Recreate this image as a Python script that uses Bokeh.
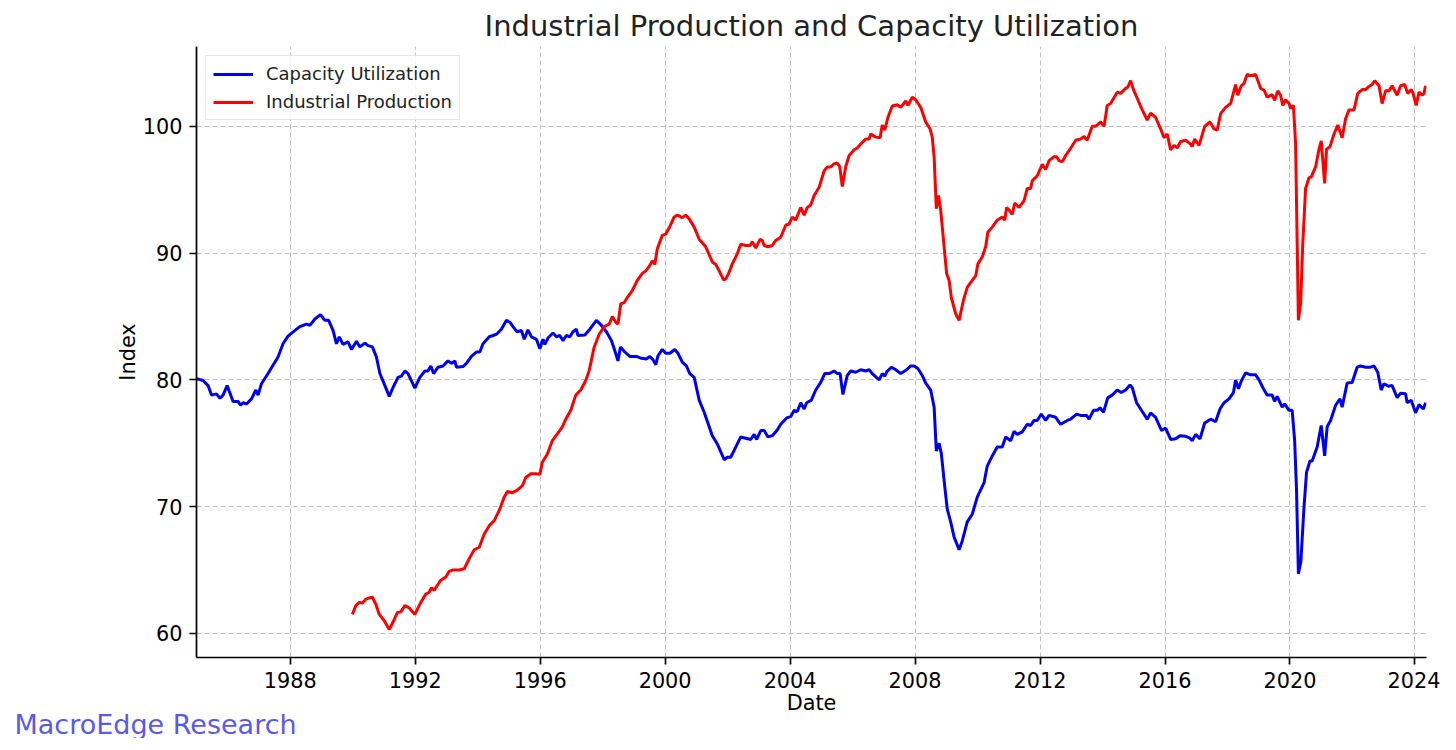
from bokeh.plotting import figure
from bokeh.models import Range1d, FixedTicker, Title
from bokeh.embed import file_html
from bokeh.resources import INLINE

# ---- data (decimal year, value) ----
cu_year = [1985.00, 1985.21, 1985.37, 1985.48, 1985.64, 1985.75, 1985.85, 1985.98, 1986.17, 1986.33,
           1986.41, 1986.49, 1986.60, 1986.76, 1986.90, 1986.97, 1987.08, 1987.29, 1987.61, 1987.77,
           1987.93, 1988.20, 1988.31, 1988.52, 1988.63, 1988.79, 1988.97, 1989.11, 1989.23, 1989.37,
           1989.48, 1989.57, 1989.69, 1989.85, 1989.96, 1990.12, 1990.23, 1990.39, 1990.49, 1990.63,
           1990.76, 1990.87, 1991.03, 1991.17, 1991.29, 1991.45, 1991.56, 1991.67, 1991.77, 1991.99,
           1992.15, 1992.31, 1992.41, 1992.50, 1992.59, 1992.73, 1992.89, 1993.05, 1993.16, 1993.27,
           1993.32, 1993.53, 1993.64, 1993.80, 1993.96, 1994.07, 1994.17, 1994.37, 1994.49, 1994.60,
           1994.76, 1994.92, 1995.03, 1995.13, 1995.26, 1995.40, 1995.49, 1995.61, 1995.72, 1995.88,
           1995.99, 1996.09, 1996.15, 1996.25, 1996.41, 1996.52, 1996.63, 1996.73, 1996.84, 1996.95,
           1997.05, 1997.16, 1997.21, 1997.43, 1997.59, 1997.80, 1997.96, 1998.12, 1998.28, 1998.39,
           1998.49, 1998.57, 1998.71, 1998.87, 1999.08, 1999.24, 1999.40, 1999.51, 1999.61, 1999.70,
           1999.77, 1999.91, 2000.02, 2000.15, 2000.31, 2000.41, 2000.55, 2000.68, 2000.79,
           2000.93, 2001.09, 2001.25, 2001.51, 2001.67, 2001.89, 2001.99, 2002.10, 2002.26, 2002.42,
           2002.58, 2002.74, 2002.85, 2002.93, 2003.06, 2003.17, 2003.29, 2003.43, 2003.59, 2003.70,
           2003.89, 2004.02, 2004.13, 2004.23, 2004.34, 2004.45, 2004.53, 2004.68, 2004.82, 2004.98,
           2005.11, 2005.25, 2005.41, 2005.51, 2005.60, 2005.69, 2005.83, 2005.94, 2006.10, 2006.26,
           2006.42, 2006.53, 2006.63, 2006.85, 2006.95, 2007.03, 2007.11, 2007.25, 2007.38, 2007.54,
           2007.73, 2007.86, 2007.97, 2008.09, 2008.23, 2008.34, 2008.50, 2008.61, 2008.68, 2008.77,
           2008.84, 2008.93, 2009.03, 2009.14, 2009.25, 2009.41, 2009.51, 2009.67, 2009.83, 2009.99,
           2010.21, 2010.31, 2010.47, 2010.63, 2010.79, 2010.90, 2011.06, 2011.17, 2011.27, 2011.43,
           2011.59, 2011.70, 2011.81, 2011.91, 2012.04, 2012.18, 2012.29, 2012.50, 2012.66, 2012.87,
           2012.98, 2013.17, 2013.30, 2013.49, 2013.57, 2013.71, 2013.83, 2013.92,
           2014.03, 2014.17, 2014.31, 2014.47, 2014.60, 2014.74, 2014.88, 2014.95, 2015.09, 2015.22,
           2015.43, 2015.54, 2015.70, 2015.89, 2016.02, 2016.18, 2016.34, 2016.48, 2016.66, 2016.80,
           2016.87, 2016.98, 2017.12, 2017.27, 2017.46, 2017.62, 2017.76, 2017.89, 2018.05, 2018.19,
           2018.26, 2018.35, 2018.44, 2018.58, 2018.74, 2018.90, 2019.01, 2019.15, 2019.27, 2019.43,
           2019.51, 2019.59, 2019.75, 2019.83, 2019.97, 2020.07, 2020.15, 2020.21, 2020.27, 2020.35,
           2020.45, 2020.53, 2020.64, 2020.71, 2020.87, 2021.00, 2021.11, 2021.19, 2021.30, 2021.46,
           2021.60, 2021.67, 2021.83, 2021.99, 2022.15, 2022.26, 2022.42, 2022.58, 2022.69, 2022.81,
           2022.92, 2023.01, 2023.15, 2023.27, 2023.43, 2023.54, 2023.70, 2023.75, 2023.88, 2024.02,
           2024.13, 2024.27, 2024.34]
cu_value = [80.1, 79.95, 79.55, 78.8, 78.9, 78.55, 78.8, 79.55, 78.3, 78.3,
            78.0, 78.2, 78.1, 78.5, 79.2, 78.8, 79.7, 80.5, 81.8, 82.85,
            83.45, 84.0, 84.2, 84.4, 84.3, 84.8, 85.15, 84.7, 84.7, 83.9,
            82.85, 83.4, 82.8, 83.0, 82.4, 83.05, 82.6, 82.9, 82.7, 82.6,
            81.8, 80.5, 79.55, 78.7, 79.4, 80.2, 80.3, 80.7, 80.5, 79.35,
            80.2, 80.7, 80.7, 81.1, 80.5, 81.0, 81.1, 81.5, 81.3, 81.5,
            81.0, 81.05, 81.3, 81.85, 82.2, 82.2, 82.85, 83.4, 83.5, 83.6,
            84.0, 84.7, 84.55, 84.2, 83.8, 83.9, 83.2, 83.95, 83.4, 83.2,
            82.45, 83.2, 82.8, 83.3, 83.7, 83.4, 83.5, 83.1, 83.5, 83.4,
            83.8, 84.0, 83.5, 83.55, 84.0, 84.7, 84.3, 83.8, 83.1, 82.3,
            81.5, 82.6, 82.2, 81.85, 81.85, 81.7, 81.65, 81.85, 81.6, 81.2,
            81.9, 82.4, 82.1, 82.1, 82.4, 82.1, 81.4, 81.1, 80.5,
            80.2, 78.4, 77.45, 75.6, 74.95, 73.7, 73.9, 73.9, 74.7, 75.5,
            75.4, 75.3, 75.7, 75.3, 76.0, 76.0, 75.5, 75.6, 76.05, 76.5,
            77.0, 77.1, 77.6, 77.5, 78.2, 77.7, 78.2, 78.4, 79.2, 79.8,
            80.5, 80.5, 80.7, 80.5, 80.5, 78.85, 80.35, 80.7, 80.6, 80.8,
            80.7, 80.8, 80.5, 80.0, 80.5, 80.3, 80.7, 81.0, 80.8, 80.5,
            80.8, 81.1, 81.1, 80.9, 80.35, 79.75, 79.2, 77.85, 74.4, 75.0,
            74.2, 72.05, 69.8, 68.8, 67.6, 66.6, 67.3, 68.8, 69.4, 70.75,
            71.9, 73.2, 74.0, 74.7, 74.7, 75.5, 75.2, 75.95, 75.7, 75.9,
            76.5, 76.4, 76.8, 76.8, 77.3, 76.8, 77.2, 77.05, 76.5, 76.8,
            76.9, 77.3, 77.2, 77.2, 76.9, 77.6, 77.6, 77.8,
            77.45, 78.6, 78.8, 79.2, 79.0, 79.2, 79.6, 79.4, 78.2, 77.7,
            76.9, 77.4, 77.05, 76.0, 76.2, 75.3, 75.35, 75.6, 75.55, 75.4,
            75.2, 75.7, 75.35, 76.6, 76.9, 76.7, 77.7, 78.2, 78.5, 79.0,
            80.0, 79.3, 79.9, 80.55, 80.4, 80.4, 80.0, 79.3, 78.8, 78.8,
            78.3, 78.7, 77.85, 78.1, 77.6, 77.6, 75.2, 71.3, 64.7, 65.7,
            70.0, 72.7, 73.6, 73.6, 74.7, 76.4, 74.0, 76.3, 76.8, 78.0,
            78.5, 77.85, 79.75, 79.8, 81.0, 81.1, 81.0, 81.0, 81.1, 80.6,
            79.2, 79.7, 79.5, 79.55, 78.6, 78.95, 78.9, 78.2, 78.4, 77.4,
            78.05, 77.7, 78.2]

ip_year = [1989.99, 1990.10, 1990.21, 1990.31, 1990.42, 1990.53, 1990.63, 1990.74, 1990.85, 1991.01,
           1991.17, 1991.33, 1991.43, 1991.54, 1991.67, 1991.81, 1991.99, 1992.18, 1992.34, 1992.45,
           1992.52, 1992.61, 1992.71, 1992.82, 1992.98, 1993.09, 1993.19, 1993.30, 1993.41, 1993.57,
           1993.73, 1993.89, 1994.05, 1994.21, 1994.37, 1994.53, 1994.69, 1994.85, 1994.95, 1995.11,
           1995.27, 1995.43, 1995.54, 1995.70, 1995.86, 1995.99, 1996.07, 1996.23, 1996.39, 1996.55,
           1996.71, 1996.82, 1996.98, 1997.14, 1997.30, 1997.46, 1997.57, 1997.73, 1997.89, 1998.05,
           1998.21, 1998.31, 1998.42, 1998.49, 1998.58, 1998.69, 1998.79, 1998.95, 1999.11, 1999.27,
           1999.38, 1999.49, 1999.59, 1999.67, 1999.75, 1999.91, 2000.02, 2000.13, 2000.29, 2000.39,
           2000.55, 2000.66, 2000.77, 2000.93, 2001.09,
           2001.30, 2001.51, 2001.62, 2001.73, 2001.87, 2001.94, 2002.05, 2002.15, 2002.31, 2002.42,
           2002.58, 2002.72, 2002.79, 2002.90, 2003.04, 2003.11, 2003.17, 2003.29, 2003.43, 2003.54,
           2003.70, 2003.86, 2003.97, 2004.07, 2004.18, 2004.34, 2004.45, 2004.55, 2004.66, 2004.77,
           2004.93, 2005.09, 2005.19, 2005.30, 2005.41, 2005.51, 2005.59, 2005.67, 2005.78, 2005.89,
           2006.05, 2006.15, 2006.26, 2006.42, 2006.53, 2006.58, 2006.74, 2006.88, 2006.95, 2007.03,
           2007.13, 2007.27, 2007.43, 2007.54, 2007.70, 2007.77, 2007.91, 2008.02, 2008.18, 2008.34,
           2008.48, 2008.55, 2008.61, 2008.68, 2008.75, 2008.82, 2008.93, 2009.01, 2009.09, 2009.16,
           2009.30, 2009.41, 2009.55, 2009.67, 2009.83, 2009.94, 2010.01, 2010.15, 2010.26, 2010.33,
           2010.47, 2010.63, 2010.79, 2010.87, 2010.93, 2011.01, 2011.11, 2011.19, 2011.33, 2011.49,
           2011.59, 2011.70, 2011.75, 2011.91, 2012.07, 2012.18, 2012.29, 2012.45, 2012.53, 2012.61,
           2012.71, 2012.82, 2012.96,
           2013.14, 2013.30, 2013.41, 2013.51, 2013.67, 2013.78, 2013.94, 2014.05, 2014.15, 2014.26,
           2014.47, 2014.58, 2014.74, 2014.81, 2014.90, 2014.99, 2015.13, 2015.27, 2015.43, 2015.54,
           2015.70, 2015.86, 2015.97, 2016.07, 2016.18, 2016.29, 2016.39, 2016.50, 2016.66, 2016.82,
           2016.87, 2016.95, 2017.09, 2017.27, 2017.44, 2017.57, 2017.67, 2017.78, 2017.94, 2018.10,
           2018.26, 2018.33, 2018.44, 2018.53, 2018.63, 2018.74, 2018.90, 2019.06, 2019.17, 2019.27,
           2019.43, 2019.51, 2019.61, 2019.70, 2019.77, 2019.86, 2019.97, 2020.02, 2020.11, 2020.18,
           2020.27, 2020.34, 2020.41, 2020.50, 2020.61, 2020.68, 2020.82, 2020.93, 2021.00, 2021.11,
           2021.17, 2021.28, 2021.41, 2021.53, 2021.67, 2021.78, 2021.89, 2022.05, 2022.17, 2022.31,
           2022.42, 2022.53, 2022.63, 2022.71, 2022.85, 2022.95, 2023.06, 2023.17, 2023.27, 2023.43,
           2023.54, 2023.67, 2023.77, 2023.88, 2023.94, 2024.04, 2024.13, 2024.23, 2024.29, 2024.34]
ip_value = [61.5, 62.2, 62.45, 62.4, 62.7, 62.8, 62.85, 62.3, 61.5, 61.0,
            60.3, 61.1, 61.65, 61.7, 62.2, 62.0, 61.5, 62.45, 63.1, 63.25,
            63.6, 63.4, 63.8, 64.2, 64.45, 64.9, 65.0, 65.0, 65.0, 65.1,
            65.9, 66.6, 66.8, 67.85, 68.5, 68.9, 69.7, 70.75, 71.2, 71.1,
            71.3, 71.65, 72.3, 72.6, 72.6, 72.55, 73.5, 74.15, 75.2, 75.75,
            76.3, 76.9, 77.6, 78.8, 79.2, 79.95, 80.75, 82.6, 83.6, 84.2,
            84.4, 85.0, 84.55, 84.4, 86.0, 86.1, 86.5, 87.05, 87.85, 88.4,
            88.6, 88.95, 89.4, 89.1, 90.35, 91.4, 91.5, 92.0, 92.85, 93.0,
            92.8, 93.0, 92.7, 92.05, 91.1,
            90.5, 89.3, 89.1, 88.6, 87.9, 87.95, 88.5, 89.15, 89.95, 90.7,
            90.6, 90.6, 90.9, 90.4, 91.1, 91.0, 90.6, 90.5, 90.6, 91.0,
            91.25, 92.2, 92.3, 92.85, 92.6, 93.6, 93.0, 93.6, 93.8, 94.55,
            95.2, 96.5, 96.8, 96.8, 97.05, 97.1, 96.8, 95.25, 96.8, 97.7,
            98.15, 98.3, 98.6, 99.0, 99.0, 99.4, 99.15, 99.1, 100.1, 99.7,
            100.7, 101.6, 101.7, 101.5, 102.0, 101.65, 102.3, 102.1, 101.5, 100.35,
            99.8, 99.15, 97.6, 93.5, 94.55, 93.4, 90.5, 88.4, 87.85, 86.5,
            85.2, 84.7, 86.3, 87.3, 87.85, 88.2, 89.15, 89.7, 90.5, 91.65,
            92.05, 92.6, 92.85, 92.6, 93.6, 93.4, 93.05, 93.95, 93.6, 94.15,
            95.1, 95.1, 95.7, 96.1, 97.0, 96.6, 97.3, 97.6, 97.6, 97.3,
            97.2, 97.7, 98.2,
            98.9, 99.0, 99.2, 98.9, 100.0, 100.0, 100.35, 100.0, 101.65, 101.8,
            102.7, 102.6, 103.0, 103.1, 103.6, 102.9, 102.1, 101.3, 100.5, 101.05,
            100.7, 99.8, 99.1, 99.4, 98.15, 98.5, 98.3, 98.8, 98.9, 98.6,
            98.4, 99.0, 98.5, 100.0, 100.35, 99.8, 99.7, 101.0, 101.5, 101.8,
            103.3, 102.45, 103.2, 103.4, 104.1, 104.0, 104.1, 103.0, 102.85, 102.3,
            102.5, 102.05, 102.8, 102.45, 101.65, 102.1, 101.8, 101.4, 101.65, 98.6,
            84.7, 86.0, 90.75, 95.1, 95.95, 96.0, 96.8, 98.2, 98.85, 95.5,
            98.2, 98.4, 99.4, 100.1, 99.1, 100.6, 101.3, 101.3, 102.6, 102.9,
            102.9, 103.15, 103.3, 103.6, 103.2, 101.8, 102.8, 102.8, 103.2, 102.45,
            103.2, 103.3, 102.6, 102.9, 102.6, 101.65, 102.7, 102.45, 102.6, 103.2]

x_ticks = [1988, 1992, 1996, 2000, 2004, 2008, 2012, 2016, 2020, 2024]
y_ticks = [60, 70, 80, 90, 100]

FONT = "DejaVu Sans"

p = figure(width=1440, height=738, output_backend="svg", toolbar_location=None,
           x_range=Range1d(1985.0, 2024.37), y_range=Range1d(58.1, 106.3),
           min_border_left=196, min_border_right=14, min_border_top=46, min_border_bottom=81)

p.line(cu_year, cu_value, color="#0000f0", line_width=3, legend_label="Capacity Utilization")
p.line(ip_year, ip_value, color="#ff0000", line_width=3, legend_label="Industrial Production")

p.title.text = "Industrial Production and Capacity Utilization"
p.title.align = "center"
p.title.text_font = FONT
p.title.text_font_size = "29px"
p.title.text_font_style = "normal"
p.title.text_color = "#222222"
p.title.standoff = 8

p.outline_line_color = None
p.xaxis.ticker = FixedTicker(ticks=x_ticks)
p.yaxis.ticker = FixedTicker(ticks=y_ticks)
for ax in (p.xaxis, p.yaxis):
    ax.minor_tick_line_color = None
    ax.major_tick_out = 7
    ax.major_tick_in = 0
    ax.major_tick_line_width = 1.7
    ax.major_tick_line_color = "black"
    ax.axis_line_width = 1.7
    ax.axis_line_color = "black"
    ax.major_label_text_font = FONT
    ax.major_label_text_font_size = "20.8px"
    ax.major_label_text_color = "black"
    ax.major_label_standoff = 7
    ax.axis_label_text_font = FONT
    ax.axis_label_text_font_size = "20.8px"
    ax.axis_label_text_font_style = "normal"
    ax.axis_label_text_color = "black"
p.xaxis.axis_label = "Date"
p.yaxis.axis_label = "Index"
p.xaxis.axis_label_standoff = 0
p.yaxis.axis_label_standoff = 0

p.xgrid.ticker = FixedTicker(ticks=x_ticks)
p.ygrid.ticker = FixedTicker(ticks=y_ticks)
p.grid.grid_line_color = "#bdbdbd"
p.grid.grid_line_width = 1
p.grid.grid_line_dash = "5 3"

leg = p.legend[0]
leg.location = "top_left"
leg.margin = 9
leg.padding = 7
leg.spacing = 7
leg.label_height = 20
leg.glyph_height = 20
leg.glyph_width = 40
leg.label_standoff = 13
leg.label_text_font = FONT
leg.label_text_font_size = "18px"
leg.label_text_color = "#222222"
leg.border_line_color = "#cccccc"
leg.border_line_width = 1
leg.background_fill_alpha = 0.8

p.add_layout(Title(text="MacroEdge Research", align="left", offset=-182, standoff=-22,
                   text_font=FONT, text_font_size="27px", text_font_style="normal",
                   text_color="#5a5ae6"), "below")

open("out.html", "w").write(file_html(p, INLINE))
